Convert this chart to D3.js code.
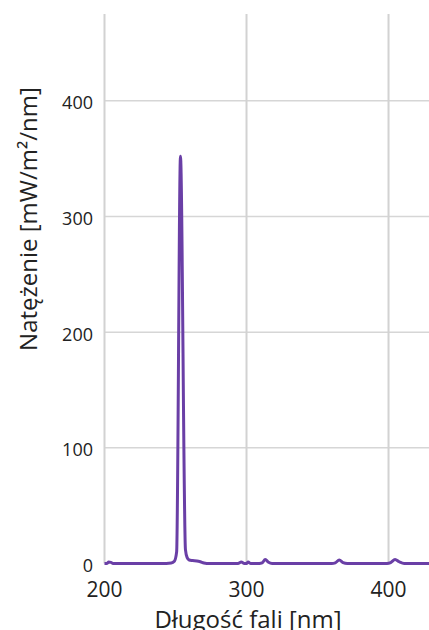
<!DOCTYPE html>
<html>
<head>
<meta charset="utf-8">
<script src="https://cdn.jsdelivr.net/npm/d3@7"></script>
<style>
  html, body { margin: 0; padding: 0; background: #fff; }
  svg { display: block; }
  text { font-family: "Open Sans", "Noto Sans", sans-serif; fill: #222; }
</style>
</head>
<body>
<div id="chart"></div>
<script>
// UV lamp emission spectrum (low-pressure mercury lines)
const wavelength = [200, 201.5, 203, 204.5, 206, 208, 240, 247, 249.2, 250.8, 253.5, 257.0, 258.2, 259.6, 262, 265, 267.5, 270, 274, 294, 296.3, 298.5, 300, 301.2, 303, 309, 311, 313.2, 315.5, 318, 360, 362.5, 365.3, 368, 371, 399, 401.5, 404.6, 407.5, 411, 428.5];
const intensity  = [0,   0,     1.2, 1.0,   0,   0,   0,   0.5, 2,     10,    352,   12,    5,     3,     2.5, 2.2, 1.5,   0.5, 0,   0,   1.2,   0,     0,   1.2,   0,   0,   0.5, 3.5,   1,     0,   0,   0.6,   3,     0.8, 0,   0,   0.8,   3.5,   1.5,   0,   0];

const xTicks = [200, 300, 400];
const yTicks = [0, 100, 200, 300, 400];
const xTitle = "Długość fali [nm]";
const yTitle = "Natężenie [mW/m²/nm]";

const W = 429, H = 630;
const svg = d3.select("#chart").append("svg").attr("width", W).attr("height", H);

const x = d3.scaleLinear().domain([200, 428.5]).range([104.5, 429]);
const y = d3.scaleLinear().domain([0, 475]).range([563.5, 14]);

// grid
const grid = svg.append("g");
grid.selectAll("line.h").data(yTicks.filter(d => d > 0)).join("line")
  .attr("class", "h")
  .attr("x1", x(200)).attr("x2", W)
  .attr("y1", d => y(d)).attr("y2", d => y(d))
  .attr("stroke", "#d6d6d6").attr("stroke-width", 1.5);
grid.selectAll("line.v").data(xTicks).join("line")
  .attr("class", "v")
  .attr("x1", d => x(d)).attr("x2", d => x(d))
  .attr("y1", y(475)).attr("y2", y(0))
  .attr("stroke", "#d2d2d2").attr("stroke-width", 2);

// y tick labels
svg.append("g").selectAll("text").data(yTicks).join("text")
  .attr("x", 93).attr("y", d => y(d) + 1.5)
  .attr("text-anchor", "end").attr("dominant-baseline", "central")
  .style("font-size", "18px")
  .text(d => d);

// x tick labels
svg.append("g").selectAll("text").data(xTicks).join("text")
  .attr("x", d => x(d)).attr("y", 588.5)
  .attr("text-anchor", "middle").attr("dominant-baseline", "central")
  .style("font-size", "21px")
  .text(d => d);

// axis titles
svg.append("text")
  .attr("transform", `translate(37,219) rotate(-90)`)
  .attr("text-anchor", "middle")
  .style("font-size", "24px")
  .text(yTitle);
svg.append("text")
  .attr("x", 248).attr("y", 627.5)
  .attr("text-anchor", "middle")
  .style("font-size", "24px")
  .text(xTitle);

// spectrum
const pts = wavelength.map((w, i) => [w, intensity[i]]);
const line = d3.line().x(d => x(d[0])).y(d => y(d[1])).curve(d3.curveMonotoneX);
svg.append("path")
  .datum(pts)
  .attr("d", line)
  .attr("fill", "none")
  .attr("stroke", "#6a3fa6")
  .attr("stroke-width", 3)
  .attr("stroke-linejoin", "round");
</script>
</body>
</html>
